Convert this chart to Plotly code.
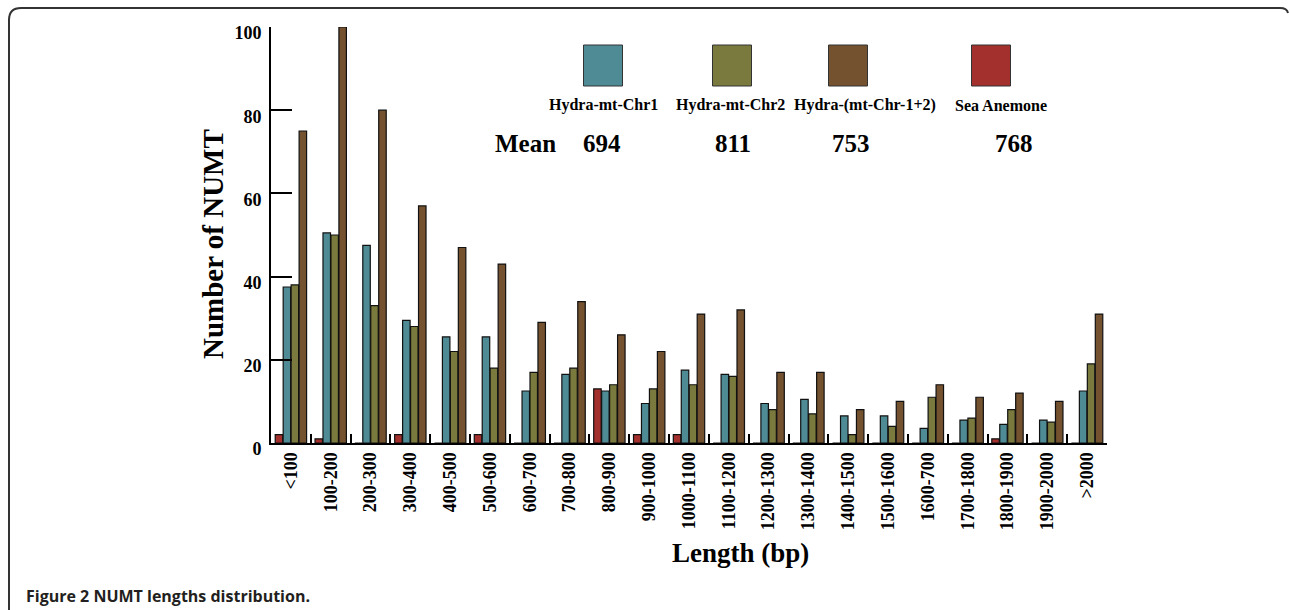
import plotly.graph_objects as go

categories = ["<100", "100-200", "200-300", "300-400", "400-500", "500-600", "600-700",
              "700-800", "800-900", "900-1000", "1000-1100", "1100-1200", "1200-1300",
              "1300-1400", "1400-1500", "1500-1600", "1600-700", "1700-1800", "1800-1900",
              "1900-2000", ">2000"]
sea_anemone = [2, 1, 0, 2, 0, 2, 0, 0, 13, 2, 2, 0, 0, 0, 0, 0, 0, 0, 1, 0, 0]
chr1 = [37.5, 50.5, 47.5, 29.5, 25.5, 25.5, 12.5, 16.5, 12.5, 9.5, 17.5, 16.5, 9.5, 10.5,
        6.5, 6.5, 3.5, 5.5, 4.5, 5.5, 12.5]
chr2 = [38, 50, 33, 28, 22, 18, 17, 18, 14, 13, 14, 16, 8, 7, 2, 4, 11, 6, 8, 5, 19]
chr12 = [75, 100, 80, 57, 47, 43, 29, 34, 26, 22, 31, 32, 17, 17, 8, 10, 14, 11, 12, 10, 31]
series_names = ["Hydra-mt-Chr1", "Hydra-mt-Chr2", "Hydra-(mt-Chr-1+2)", "Sea Anemone"]
means = ["694", "811", "753", "768"]
y_ticks = [0, 20, 40, 60, 80, 100]

C_TEAL = "#4E8B95"
C_OLIVE = "#7A7A3E"
C_BROWN = "#74512F"
C_RED = "#A3302C"

W, H = 1290, 610
L, R, T, B = 271, 1107, 27, 443
SERIF = "Liberation Serif"


def px(x):  # pixel -> paper
    return (x - L) / (R - L)


def py(y):
    return (B - y) / (B - T)


fig = go.Figure()
for name, vals, col in [("Sea Anemone", sea_anemone, C_RED),
                        ("Hydra-mt-Chr1", chr1, C_TEAL),
                        ("Hydra-mt-Chr2", chr2, C_OLIVE),
                        ("Hydra-(mt-Chr-1+2)", chr12, C_BROWN)]:
    fig.add_bar(x=categories, y=vals, name=name,
                marker=dict(color=col, line=dict(color="#111", width=1.2)))

fig.update_layout(
    width=W, height=H, barmode="group", bargap=0.2, bargroupgap=0.06,
    showlegend=False, plot_bgcolor="white", paper_bgcolor="white",
    margin=dict(l=L, r=W - R, t=T, b=H - B, pad=0),
    font=dict(family=SERIF, color="black"),
)
fig.update_xaxes(
    type="category", showline=True, linewidth=2, linecolor="black",
    ticks="inside", tickson="boundaries", ticklen=9, tickwidth=2, tickcolor="black",
    tickangle=-90, tickfont=dict(family=SERIF, size=18, weight="bold", color="black"),
    showgrid=False, zeroline=False, automargin=False,
)
fig.update_yaxes(
    range=[0, 100], tickvals=y_ticks, showline=True, linewidth=2, linecolor="black",
    ticks="inside", ticklen=21, tickwidth=2, tickcolor="black",
    tickfont=dict(family=SERIF, size=18, weight="bold", color="black"),
    ticklabelshift=6, ticklabelstandoff=4,
    showgrid=False, zeroline=False, automargin=False,
)

ann = []
# axis titles
ann.append(dict(text="Length (bp)", x=px(740), y=py(553), xref="paper", yref="paper",
                xanchor="center", yanchor="middle",
                showarrow=False, font=dict(family=SERIF, size=27, weight="bold")))
ann.append(dict(text="Number of NUMT", x=px(213), y=py(244), xref="paper", yref="paper",
                xanchor="center", yanchor="middle",
                textangle=-90, showarrow=False, font=dict(family=SERIF, size=29, weight="bold")))

# custom legend
sq_x = [603, 732, 848, 991]
lab_x = [603, 730, 865, 1001]
sq_cols = [C_TEAL, C_OLIVE, C_BROWN, C_RED]
shapes = []
for cx, lx, col, nm in zip(sq_x, lab_x, sq_cols, series_names):
    shapes.append(dict(type="rect", xref="paper", yref="paper",
                       x0=px(cx - 19.5), x1=px(cx + 19.5), y0=py(86), y1=py(45),
                       fillcolor=col, line=dict(color="#333", width=1)))
    ann.append(dict(text=nm, x=px(lx), y=py(105), xref="paper", yref="paper",
                    xanchor="center", yanchor="middle",
                    showarrow=False, font=dict(family=SERIF, size=16, weight="bold")))
ann.append(dict(text="Mean", x=px(525), y=py(143), xref="paper", yref="paper",
                xanchor="center", yanchor="middle",
                showarrow=False, font=dict(family=SERIF, size=25, weight="bold")))
for mx, m in zip([602, 733, 851, 1014], means):
    ann.append(dict(text=m, x=px(mx), y=py(143), xref="paper", yref="paper",
                    xanchor="center", yanchor="middle",
                    showarrow=False, font=dict(family=SERIF, size=25, weight="bold")))

# caption
ann.append(dict(text="Figure 2 NUMT lengths distribution.", x=px(24), y=py(596),
                xref="paper", yref="paper", xanchor="left", yanchor="middle", showarrow=False,
                font=dict(family="Open Sans", size=16, color="#231F20", weight="bold")))

# frame
path = (f"M {px(9)},{py(640)} L {px(9)},{py(20)} Q {px(9)},{py(8)} {px(21)},{py(8)} "
        f"L {px(1280)},{py(8)} Q {px(1287)},{py(8)} {px(1288)},{py(13)}")
shapes.append(dict(type="path", path=path, xref="paper", yref="paper",
                   line=dict(color="#333", width=2)))

fig.update_layout(annotations=ann, shapes=shapes)
fig.write_html("out.html", config={"displayModeBar": False},
               post_script="document.body.style.margin='0';document.body.style.overflow='hidden';")
